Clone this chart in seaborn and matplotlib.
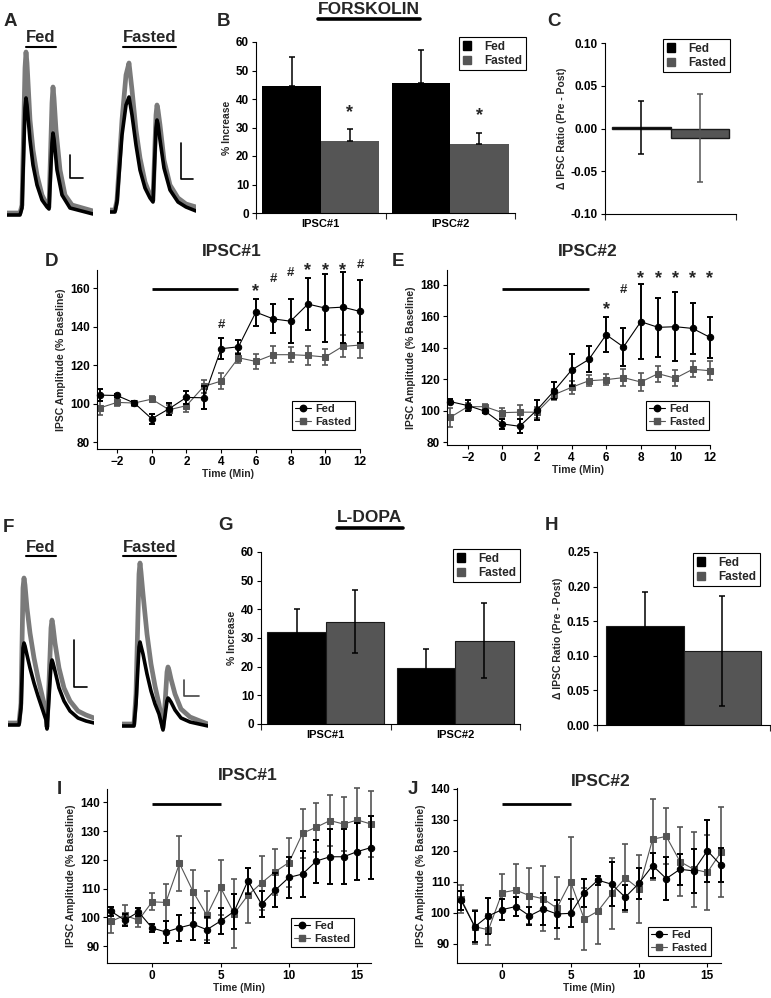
import numpy as np
import pandas as pd
import matplotlib
matplotlib.use("Agg")
import matplotlib.pyplot as plt
import seaborn as sns
from matplotlib.lines import Line2D
from matplotlib.patches import Patch

W, H = 771, 998

groups = ["Fed", "Fasted"]
FED_COLOR = "black"
FAST_COLOR = "#555555"
TRACE_GRAY = "#7a7a7a"

# ---- B: forskolin % increase
b_cats = ["IPSC#1", "IPSC#2"]
b_fed = [44.5, 45.6]
b_fed_err = [10.2, 11.6]
b_fast = [25.3, 24.2]
b_fast_err = [4.1, 3.9]

# ---- C: forskolin delta ratio
c_fed = [0.0015]
c_fed_err = [0.031]
c_fast = [-0.011]
c_fast_err = [0.051]

# ---- D / E: forskolin time course
t_fsk = [-3, -2, -1, 0, 1, 2, 3, 4, 5, 6, 7, 8, 9, 10, 11, 12]
d_fed = [104.4, 104.2, 100.3, 92.1, 97.3, 103.2, 103.0, 128.5, 129.5, 147.5, 144.0, 142.8, 151.7, 149.6, 150.1, 147.9]
d_fed_err = [3.0, 1.0, 1.0, 2.5, 3.0, 3.5, 6.0, 5.5, 3.5, 7.0, 7.5, 11.5, 13.7, 17.5, 18.5, 16.5]
d_fast = [97.7, 100.6, 100.3, 102.3, 96.8, 98.9, 108.9, 111.7, 123.8, 121.9, 125.4, 125.4, 125.0, 124.2, 129.7, 130.4]
d_fast_err = [3.5, 2.0, 1.0, 1.5, 2.5, 3.5, 3.5, 4.0, 2.5, 4.0, 4.5, 4.0, 5.0, 4.0, 5.7, 6.8]
d_sig_x = [4, 6, 7, 8, 9, 10, 11, 12]
d_sig_s = ["#", "*", "#", "#", "*", "*", "*", "#"]
d_sig_y = [141.8, 161.4, 165.5, 168.5, 172.6, 172.6, 172.6, 173.0]

e_fed = [105.7, 103.2, 99.6, 91.5, 90.0, 100.4, 112.7, 125.8, 132.6, 148.3, 140.5, 156.6, 153.0, 153.4, 152.3, 146.6]
e_fed_err = [1.7, 3.6, 1.0, 3.4, 4.5, 6.6, 5.3, 10.2, 8.3, 11.0, 12.0, 24.0, 18.6, 22.0, 16.1, 13.0]
e_fast = [95.8, 102.5, 102.5, 98.7, 99.0, 99.0, 110.2, 114.8, 119.0, 119.7, 121.0, 118.2, 123.5, 120.6, 126.3, 125.4]
e_fast_err = [6.0, 2.5, 2.0, 3.0, 4.5, 3.5, 3.5, 4.0, 3.5, 3.5, 5.5, 6.0, 5.0, 5.0, 5.0, 6.0]
e_sig_x = [6, 7, 8, 9, 10, 11, 12]
e_sig_s = ["*", "#", "*", "*", "*", "*", "*"]
e_sig_y = [168.3, 177.9, 188.1, 188.1, 188.1, 188.1, 188.1]

# ---- G: L-DOPA % increase
g_cats = ["IPSC#1", "IPSC#2"]
g_fed = [32.1, 19.5]
g_fed_err = [8.0, 6.7]
g_fast = [35.7, 29.1]
g_fast_err = [11.0, 13.1]

# ---- H: L-DOPA delta ratio
h_fed = [0.143]
h_fed_err = [0.049]
h_fast = [0.107]
h_fast_err = [0.079]

# ---- I / J: L-DOPA time course
t_ldopa = [-3, -2, -1, 0, 1, 2, 3, 4, 5, 6, 7, 8, 9, 10, 11, 12, 13, 14, 15, 16]
i_fed = [102.1, 99.0, 101.9, 96.3, 94.9, 96.4, 97.6, 95.7, 98.7, 102.1, 112.7, 104.6, 109.5, 113.9, 115.1, 119.6, 121.1, 121.1, 122.9, 124.3]
i_fed_err = [1.5, 2.0, 1.5, 1.5, 4.0, 4.5, 5.5, 4.5, 4.5, 6.0, 4.5, 4.5, 6.0, 7.0, 8.0, 7.5, 9.5, 9.5, 10.0, 11.0]
i_fast = [98.6, 100.7, 99.0, 105.4, 105.2, 118.8, 108.9, 100.7, 110.4, 101.3, 107.7, 112.0, 115.9, 119.1, 129.3, 131.4, 133.7, 132.5, 133.9, 132.5]
i_fast_err = [4.0, 3.5, 2.5, 3.0, 6.5, 9.5, 7.5, 8.5, 9.5, 12.0, 9.5, 9.5, 8.0, 8.5, 8.5, 8.5, 9.0, 9.5, 11.0, 11.5]

j_fed = [104.0, 95.5, 99.0, 101.0, 102.0, 99.0, 101.2, 99.6, 99.8, 106.5, 110.5, 109.2, 105.0, 109.5, 115.2, 111.0, 114.0, 113.5, 120.0, 115.3]
j_fed_err = [3.0, 5.0, 5.8, 3.5, 3.0, 3.0, 5.0, 4.5, 4.5, 4.5, 1.5, 7.0, 4.0, 5.0, 4.0, 7.0, 5.0, 7.0, 10.0, 5.5]
j_fast = [104.5, 95.5, 94.5, 106.5, 107.3, 105.5, 104.5, 101.5, 110.0, 98.0, 100.5, 106.2, 111.2, 107.7, 123.7, 124.6, 116.5, 114.0, 113.0, 119.5]
j_fast_err = [4.5, 5.5, 5.0, 6.0, 8.5, 9.0, 10.5, 10.0, 14.5, 10.0, 10.5, 11.5, 11.0, 11.0, 13.0, 9.0, 11.0, 12.0, 12.0, 14.5]

drug_on, drug_off = 0, 5

# ---- example traces (time in ms from trace start, amplitude relative to baseline)
a_fed_t_gray = [0, 13, 15, 18, 19, 20, 23, 26, 30, 35, 40, 42, 45, 46, 47, 49, 53, 58, 65, 86]
a_fed_v_gray = [0, 0, 8, 145, 161, 150, 93, 63, 38, 18, 8, 6, 110, 126, 115, 83, 43, 18, 8, 2]
a_fed_t_black = [0, 13, 15, 18, 19, 20, 23, 26, 30, 35, 40, 42, 45, 46, 47, 50, 55, 63, 86]
a_fed_v_black = [-2, -2, 5, 105, 115, 108, 73, 48, 28, 13, 6, 4, 70, 80, 74, 43, 18, 5, -1]
a_fast_t_gray = [0, 5, 7, 12, 16, 19, 22, 26, 30, 35, 40, 43, 46, 47, 48, 50, 54, 60, 68, 76, 86]
a_fast_v_gray = [0, 0, 10, 90, 135, 147, 120, 80, 52, 28, 15, 10, 95, 105, 100, 85, 50, 25, 12, 6, 3]
a_fast_t_black = [0, 5, 7, 12, 16, 19, 22, 26, 30, 35, 40, 43, 46, 47, 48, 50, 54, 60, 68, 76, 86]
a_fast_v_black = [-2, -2, 8, 75, 105, 113, 95, 65, 40, 22, 12, 8, 82, 90, 86, 70, 42, 20, 8, 3, -1]

f_fed_t_gray = [0, 11, 13, 15, 16, 17, 19, 22, 26, 30, 34, 38, 39, 41, 43, 44, 45, 47, 51, 56, 62, 70, 78, 86]
f_fed_v_gray = [0, 0, 20, 135, 145, 138, 115, 90, 65, 45, 28, 10, -4, 40, 95, 103, 97, 80, 55, 35, 22, 12, 8, 5]
f_fed_t_black = [0, 11, 13, 15, 16, 17, 19, 22, 26, 30, 34, 38, 39, 41, 43, 44, 45, 47, 51, 56, 62, 70, 78, 86]
f_fed_v_black = [-2, -2, 15, 75, 80, 77, 68, 55, 40, 27, 15, 3, -6, 25, 58, 63, 60, 52, 35, 22, 12, 5, 2, 0]
f_fast_t_gray = [0, 12, 14, 17, 18, 19, 21, 25, 29, 33, 37, 41, 43, 45, 46, 47, 49, 53, 59, 68, 78, 86]
f_fast_v_gray = [0, 0, 30, 150, 161, 152, 130, 90, 60, 38, 20, -4, 20, 52, 57, 54, 45, 30, 15, 7, 3, 0]
f_fast_t_black = [0, 12, 14, 17, 18, 19, 21, 25, 29, 33, 37, 41, 43, 45, 46, 47, 49, 53, 59, 68, 86]
f_fast_v_black = [-2, -2, 20, 77, 82, 78, 70, 50, 33, 20, 10, -6, 8, 23, 26, 25, 22, 14, 6, 2, -2]

# scale bars: (time start, time end, amp bottom, amp top)
a_fed_scale = [63, 76, 35, 58]
a_fast_scale = [71, 83, 31, 67]
f_fed_scale = [66, 79, 36, 83]
f_fast_scale = [62, 77, 28, 44]

sns.set_theme(style="ticks")
plt.rcParams["font.family"] = ["Liberation Sans", "DejaVu Sans"]
plt.rcParams["font.weight"] = "bold"
plt.rcParams["axes.labelweight"] = "bold"
plt.rcParams["axes.linewidth"] = 0.8

fig = plt.figure(figsize=(W / 100, H / 100), dpi=100)


def add_ax(x0, y0, x1, y1):
    return fig.add_axes([x0 / W, 1 - y1 / H, (x1 - x0) / W, (y1 - y0) / H])


def ftext(x, y, s, **kw):
    return fig.text(x / W, 1 - y / H, s, **kw)


def style_axes(ax):
    sns.despine(ax=ax)
    ax.tick_params(axis="both", direction="out", length=3, width=0.8, labelsize=8.5, pad=2, colors="black")
    for sp in ax.spines.values():
        sp.set_color("black")
        sp.set_linewidth(0.8)


def legend_box(ax, handles, x, y, square=False):
    leg = ax.legend(handles, groups, loc="upper left", bbox_to_anchor=(x / W, 1 - y / H),
                    bbox_transform=fig.transFigure, frameon=True, fancybox=False,
                    edgecolor="black", framealpha=1, borderpad=0.3, borderaxespad=0,
                    handlelength=0.75 if square else 1.4, handleheight=0.7,
                    handletextpad=1.1 if square else 0.4, labelspacing=0.2,
                    prop=dict(weight="bold", size=8.5 if square else 8))
    leg.get_frame().set_linewidth(0.8)
    return leg


def bar_panel(ax, cats, fed, fed_err, fast, fast_err, ylim, yticks, fmt, ylabel,
              upper_only, edge_lw, fast_ecolor, show_cats, leg_xy):
    n = len(cats)
    df = pd.DataFrame({"IPSC": cats + cats,
                       "Group": ["Fed"] * n + ["Fasted"] * n,
                       "Value": fed + fast})
    sns.barplot(data=df, x="IPSC", y="Value", hue="Group", hue_order=groups,
                palette=[FED_COLOR, FAST_COLOR], width=0.9, errorbar=None, saturation=1,
                edgecolor="#1a1a1a", linewidth=edge_lw, legend=False, ax=ax)
    bars = ax.patches
    for k, (vals, errs, ec) in enumerate([(fed, fed_err, "black"), (fast, fast_err, fast_ecolor)]):
        xs = [bars[k * n + i].get_x() + bars[k * n + i].get_width() / 2 for i in range(n)]
        yerr = [[0] * n, errs] if upper_only else errs
        ax.errorbar(xs, vals, yerr=yerr, fmt="none", ecolor=ec, elinewidth=1.1,
                    capsize=2.2, capthick=1.1)
    ax.set_xlim(-0.5, n - 0.5)
    ax.set_ylim(*ylim)
    ax.set_yticks(yticks)
    ax.set_yticklabels([fmt.format(v) for v in yticks])
    ax.set_xticks(range(n))
    ax.set_xticklabels(cats if show_cats else [""] * n)
    ax.set_xticks(np.arange(-0.5, n, 1.0), minor=True)
    style_axes(ax)
    ax.tick_params(axis="x", which="major", length=0, pad=4, labelsize=8)
    ax.tick_params(axis="x", which="minor", length=4, width=0.8)
    ax.set_xlabel("")
    ax.set_ylabel(ylabel, fontsize=7.5, labelpad=3)
    handles = [Patch(facecolor=FED_COLOR, edgecolor=FED_COLOR),
               Patch(facecolor=FAST_COLOR, edgecolor=FAST_COLOR)]
    return legend_box(ax, handles, *leg_xy, square=True)


def time_panel(ax, t, fed, fed_err, fast, fast_err, xlim, ylim, xticks, yticks,
               drug_y, leg_xy, sig=None):
    sns.lineplot(x=t, y=fast, ax=ax, color=FAST_COLOR, marker="s", markersize=4.2,
                 markeredgecolor=FAST_COLOR, linewidth=0.8)
    ax.errorbar(t, fast, yerr=fast_err, fmt="none", ecolor=FAST_COLOR, elinewidth=1.2,
                capsize=2, capthick=1.2)
    sns.lineplot(x=t, y=fed, ax=ax, color=FED_COLOR, marker="o", markersize=4.6,
                 markeredgecolor=FED_COLOR, linewidth=0.8)
    ax.errorbar(t, fed, yerr=fed_err, fmt="none", ecolor=FED_COLOR, elinewidth=1.4,
                capsize=2, capthick=1.4)
    ax.plot([drug_on, drug_off], [drug_y, drug_y], color="black", lw=2, solid_capstyle="butt")
    for art in ax.lines + ax.collections:
        art.set_clip_on(False)
    if sig is not None:
        for x, s, y in zip(*sig):
            size = 13 if s == "*" else 9.5
            off = -0.62 * size if s == "*" else -0.36 * size
            ax.annotate(s, (x, y), xytext=(0, off), textcoords="offset points",
                        ha="center", va="baseline", fontsize=size, weight="bold",
                        annotation_clip=False)
    ax.set_xlim(*xlim)
    ax.set_ylim(*ylim)
    ax.set_xticks(xticks)
    ax.set_yticks(yticks)
    style_axes(ax)
    ax.set_xlabel("Time (Min)", fontsize=7.5, labelpad=1)
    ax.set_ylabel("IPSC Amplitude (% Baseline)", fontsize=7.5, labelpad=3)
    handles = [Line2D([], [], color=FED_COLOR, marker="o", markersize=4.6, lw=0.8),
               Line2D([], [], color=FAST_COLOR, marker="s", markersize=4.2, lw=0.8)]
    legend_box(ax, handles, *leg_xy)


def trace_panel(box, ylim, gray_t, gray_v, black_t, black_v, scale, scale_color):
    ax = add_ax(*box)
    ax.plot(gray_t, gray_v, color=TRACE_GRAY, lw=3.4, solid_joinstyle="round")
    ax.plot(black_t, black_v, color="black", lw=2.6, solid_joinstyle="round")
    t0, t1, v0, v1 = scale
    ax.plot([t0, t0, t1], [v1, v0, v0], color=scale_color, lw=1.2)
    ax.set_xlim(0, 86)
    ax.set_ylim(*ylim)
    ax.axis("off")
    return ax


# ---- traces
trace_panel((7, 40, 93, 225), (-12, 173), a_fed_t_gray, a_fed_v_gray, a_fed_t_black, a_fed_v_black, a_fed_scale, "black")
trace_panel((110, 40, 196, 225), (-15, 170), a_fast_t_gray, a_fast_v_gray, a_fast_t_black, a_fast_v_black, a_fast_scale, "black")
trace_panel((8, 530, 94, 740), (-17, 193), f_fed_t_gray, f_fed_v_gray, f_fed_t_black, f_fed_v_black, f_fed_scale, "black")
trace_panel((122, 530, 208, 740), (-16, 194), f_fast_t_gray, f_fast_v_gray, f_fast_t_black, f_fast_v_black, f_fast_scale, "#444444")

# ---- bar panels
axB = add_ax(256, 42, 515, 213)
bar_panel(axB, b_cats, b_fed, b_fed_err, b_fast, b_fast_err, (0, 60), list(range(0, 61, 10)), "{:.0f}",
          "% Increase", True, 0, "black", True, (459, 37))
for i in range(2):
    axB.annotate("*", (i + 0.225, b_fast[i] + b_fast_err[i]), xytext=(0, 6), textcoords="offset points",
                 ha="center", va="bottom", fontsize=13, weight="bold")

axC = add_ax(605, 43, 736, 214)
bar_panel(axC, ["ratio"], c_fed, c_fed_err, c_fast, c_fast_err, (-0.1, 0.1),
          [-0.10, -0.05, 0.0, 0.05, 0.10], "{:.2f}", "\u0394 IPSC Ratio (Pre - Post)",
          False, 1.0, FAST_COLOR, False, (663, 39))

axG = add_ax(261, 552, 520, 724)
bar_panel(axG, g_cats, g_fed, g_fed_err, g_fast, g_fast_err, (0, 60), list(range(0, 61, 10)), "{:.0f}",
          "% Increase", False, 0.8, "black", True, (453, 549))

axH = add_ax(597, 552, 770, 725)
bar_panel(axH, ["ratio"], h_fed, h_fed_err, h_fast, h_fast_err, (0, 0.25),
          [0.0, 0.05, 0.10, 0.15, 0.20, 0.25], "{:.2f}", "\u0394 IPSC Ratio (Pre - Post)",
          False, 0.8, "black", False, (693, 553))

# ---- time course panels
axD = add_ax(97, 270, 360, 449)
time_panel(axD, t_fsk, d_fed, d_fed_err, d_fast, d_fast_err, (-3.15, 12), (76.4, 169.4),
           list(range(-2, 13, 2)), list(range(80, 161, 20)), 159.5, (292, 401),
           sig=(d_sig_x, d_sig_s, d_sig_y))

axE = add_ax(447, 270, 710, 445)
time_panel(axE, t_fsk, e_fed, e_fed_err, e_fast, e_fast_err, (-3.2, 12), (78.1, 189.5),
           list(range(-2, 13, 2)), list(range(80, 181, 20)), 177.1, (646, 401),
           sig=(e_sig_x, e_sig_s, e_sig_y))

axI = add_ax(107, 789, 371, 963)
time_panel(axI, t_ldopa, i_fed, i_fed_err, i_fast, i_fast_err, (-3.3, 16), (84.1, 144.7),
           [0, 5, 10, 15], list(range(90, 141, 10)), 139.5, (291, 918))

axJ = add_ax(457, 788, 721, 963)
time_panel(axJ, t_ldopa, j_fed, j_fed_err, j_fast, j_fast_err, (-3.3, 16), (83.8, 140.2),
           [0, 5, 10, 15], list(range(90, 141, 10)), 135.0, (648, 927))

# ---- titles and labels
title_kw = dict(ha="center", va="center", fontsize=12.5, weight="bold")
ftext(232, 251, "IPSC#1", **title_kw)
ftext(588, 251, "IPSC#2", **title_kw)
ftext(248, 776, "IPSC#1", **title_kw)
ftext(601, 781, "IPSC#2", **title_kw)

letter_kw = dict(ha="left", va="center", fontsize=13.5, weight="bold")
for lx, ly, s in [(4, 21, "A"), (217, 21, "B"), (547, 21, "C"), (45, 261, "D"), (392, 261, "E"),
                  (3, 527, "F"), (218, 525, "G"), (545, 525, "H"), (57, 790, "I"), (408, 789, "J")]:
    ftext(lx, ly, s, **letter_kw)

underlined = [
    ftext(369, 9, "FORSKOLIN", ha="center", va="center", fontsize=12.5, weight="bold"),
    ftext(370, 518, "L-DOPA", ha="center", va="center", fontsize=12.5, weight="bold"),
    ftext(41, 38, "Fed", ha="center", va="center", fontsize=12, weight="bold"),
    ftext(149.5, 38, "Fasted", ha="center", va="center", fontsize=12, weight="bold"),
    ftext(41, 547, "Fed", ha="center", va="center", fontsize=12, weight="bold"),
    ftext(149.5, 547, "Fasted", ha="center", va="center", fontsize=12, weight="bold"),
]
line_y = [19, 528, 47, 47, 556, 556]
line_w = [2.6, 2.6, 1.5, 1.5, 1.5, 1.5]

fig.canvas.draw()
renderer = fig.canvas.get_renderer()
for txt, ly, lw in zip(underlined, line_y, line_w):
    bb = txt.get_window_extent(renderer)
    fig.add_artist(Line2D([bb.x0 / W, bb.x1 / W], [1 - ly / H, 1 - ly / H],
                          transform=fig.transFigure, color="black", lw=lw))

fig.savefig("out.png", dpi=100)
